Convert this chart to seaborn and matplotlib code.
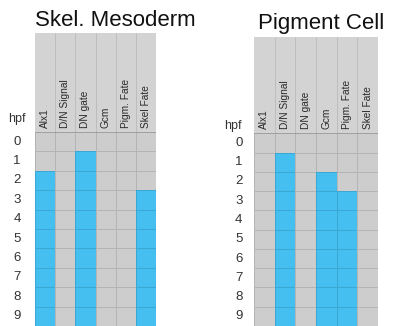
import numpy as np
import pandas as pd
import matplotlib
matplotlib.use("Agg")
import matplotlib.pyplot as plt
import seaborn as sns
from matplotlib.colors import ListedColormap

# data
genes = ['Alx1', 'D/N Signal', 'DN gate', 'Gcm', 'Pigm. Fate', 'Skel Fate']
hours = [0, 1, 2, 3, 4, 5, 6, 7, 8, 9]
# hour at which each gene turns on (None = never)
skel_start = [2, None, 1, None, None, 3]
pigm_start = [None, 1, None, 2, 3, None]

cell_gray = '#cdcdcd'
head_gray = '#d3d3d3'
line_col = (0, 0, 0, 0.12)
blue = '#45bff0'

sns.set_style('white')
plt.rcParams['font.family'] = ['Liberation Sans', 'DejaVu Sans']


def on_matrix(starts):
    rows = []
    for h in hours:
        rows.append([1 if (s is not None and h >= s) else 0 for s in starts])
    return pd.DataFrame(rows, index=hours, columns=genes)


fig = plt.figure(figsize=(3.94, 3.26), dpi=100)

# title, starts, [left px, top px, width px], header rows, title x/y, hpf x/y, tick pad
panels = [
    ('Skel. Mesoderm', skel_start, (35, 33, 121), -5.1, (115, 21), (17, -0.65), 13),
    ('Pigment Cell', pigm_start, (254, 37, 124), -5.0, (321, 23), (233, -0.4), 11),
]

for title, starts, (lx, ty, wx), top, (tx, tty), (hx, hy), pad in panels:
    ax = fig.add_axes([lx/394, 0, wx/394, 1 - ty/326])
    df = on_matrix(starts)
    sns.heatmap(df, ax=ax, cmap=ListedColormap([cell_gray, blue]), vmin=0, vmax=1,
                cbar=False, linewidths=0.5, linecolor=line_col,
                xticklabels=False, yticklabels=hours)
    # header area above row 0
    ax.set_facecolor(head_gray)
    ax.set_ylim(10, top)
    ax.vlines(np.arange(1, len(genes)), top, 0, color=line_col, lw=0.6)
    ax.axhline(0, color=line_col, lw=0.6)
    for i, g in enumerate(genes):
        ax.text(i + 0.5, -0.22, g, rotation=90, ha='center', va='bottom',
                fontsize=7.3, color='#2a2a2a')
    ax.tick_params(axis='y', length=0, pad=pad, labelsize=9.5, labelcolor='#333333')
    for lab in ax.get_yticklabels():
        lab.set_rotation(0)
        lab.set_ha('center')
    ax.set_xlabel('')
    ax.set_ylabel('')
    for s in ax.spines.values():
        s.set_visible(False)
    ax.text((hx - lx) / wx, hy, 'hpf', transform=ax.get_yaxis_transform(),
            ha='center', va='center', fontsize=9, color='#333333')
    fig.text(tx / 394, 1 - tty/326, title, ha='center', va='center',
             fontsize=16, color='#111111')

fig.savefig('out.png', dpi=100)
